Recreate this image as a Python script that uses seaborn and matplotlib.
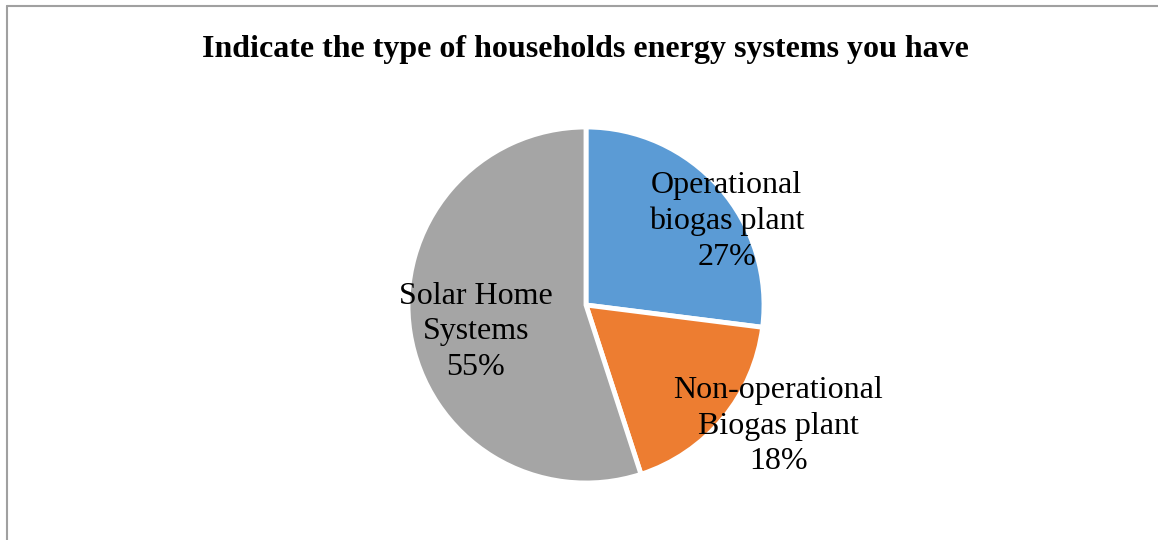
import matplotlib
matplotlib.use("Agg")
import matplotlib.pyplot as plt
from matplotlib.lines import Line2D
import seaborn as sns

# data
categories = ["Operational\nbiogas plant", "Non-operational\nBiogas plant", "Solar Home\nSystems"]
shares = [27, 18, 55]
colors = ["#5B9BD5", "#ED7D31", "#A5A5A5"]
# label offsets in pie units (relative to centre)
label_pos = [(0.79, 0.47), (1.08, -0.68), (-0.62, -0.15)]

sns.set_style("white")
plt.rcParams["font.family"] = ["Liberation Serif", "DejaVu Serif"]
plt.rcParams["text.color"] = "black"

W, H = 1158, 540
fig = plt.figure(figsize=(W / 100, H / 100), dpi=100)

cx, cy, r = 586, 305, 178
ax = fig.add_axes([(cx - r) / W, (H - cy - r) / H, 2 * r / W, 2 * r / H])
ax.pie(shares, colors=colors, startangle=90, counterclock=False, radius=1,
       wedgeprops=dict(edgecolor="white", linewidth=3.5))
ax.set_xlim(-1, 1)
ax.set_ylim(-1, 1)
ax.set_aspect("equal")
ax.axis("off")

for name, val, (px, py) in zip(categories, shares, label_pos):
    ax.text(px, py, f"{name}\n{val}%", ha="center", va="center", color="black",
            fontsize=23, linespacing=1.3, clip_on=False)

fig.text(585.5 / W, 1 - 50 / H, "Indicate the type of households energy systems you have",
         ha="center", va="center", fontsize=23, fontweight="bold", color="black")

# chart-area border (only top and left visible)
bc = "#A0A0A0"
fig.add_artist(Line2D([7.5 / W, 7.5 / W], [0, 1 - 6 / H], color=bc, lw=1.5, transform=fig.transFigure))
fig.add_artist(Line2D([7.5 / W, 1], [1 - 6 / H, 1 - 6 / H], color=bc, lw=1.5, transform=fig.transFigure))

fig.savefig("out.png", dpi=100)
